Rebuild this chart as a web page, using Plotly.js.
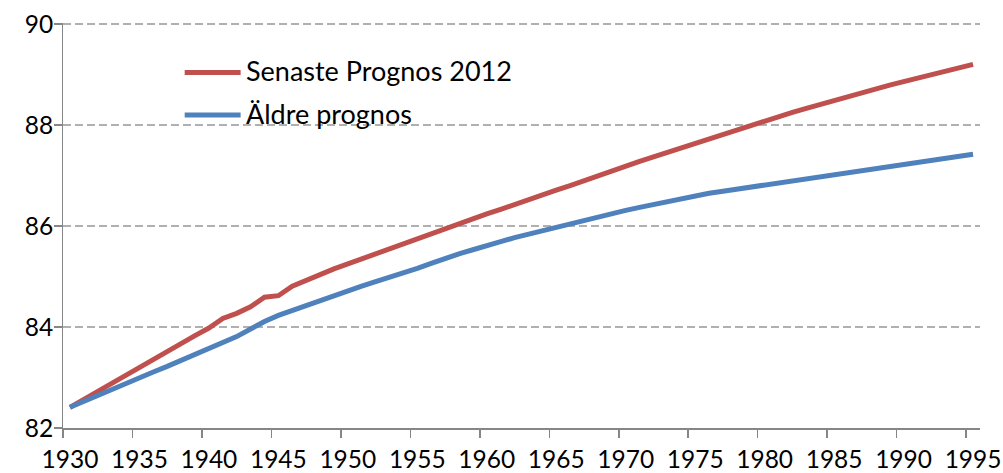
<!DOCTYPE html>
<html>
<head>
<meta charset="utf-8">
<script src="https://cdn.plot.ly/plotly-3.0.1.min.js"></script>
<style>html,body{margin:0;padding:0;background:#fff;}#chart{width:1003px;height:473px;}</style>
</head>
<body>
<div id="chart"></div>
<script>
var years = [];
for (var yr = 1930; yr <= 1995; yr++) years.push(yr);

var seriesNames = ["Senaste Prognos 2012", "Äldre prognos"];

var senaste = [
  82.41, 82.57, 82.73, 82.88, 83.04, 83.20, 83.36, 83.51, 83.67, 83.83,
  83.98, 84.17, 84.27, 84.40, 84.59, 84.62, 84.81, 84.93, 85.04, 85.15,
  85.25, 85.35, 85.46, 85.56, 85.66, 85.76, 85.84, 85.96, 86.05, 86.14,
  86.24, 86.33, 86.43, 86.52, 86.62, 86.71, 86.80, 86.90, 87.00, 87.10,
  87.19, 87.28, 87.37, 87.46, 87.55, 87.64, 87.73, 87.82, 87.91, 88.00,
  88.09, 88.17, 88.25, 88.33, 88.41, 88.49, 88.57, 88.65, 88.72, 88.79,
  88.86, 88.93, 89.00, 89.07, 89.14, 89.20
];

var aldre = [
  82.41, 82.53, 82.64, 82.76, 82.87, 82.99, 83.11, 83.22, 83.34, 83.45,
  83.57, 83.68, 83.81, 83.96, 84.11, 84.23, 84.33, 84.42, 84.52, 84.63,
  84.71, 84.81, 84.90, 84.98, 85.07, 85.16, 85.26, 85.36, 85.45, 85.53,
  85.62, 85.69, 85.77, 85.84, 85.91, 85.98, 86.04, 86.11, 86.18, 86.24,
  86.31, 86.37, 86.43, 86.49, 86.55, 86.60, 86.65, 86.69, 86.73, 86.77,
  86.82, 86.86, 86.90, 86.94, 86.98, 87.03, 87.07, 87.11, 87.15, 87.18,
  87.22, 87.26, 87.30, 87.34, 87.38, 87.42
];

var xTickLabels = ["1930","1935","1940","1945","1950","1955","1960","1965","1970","1975","1980","1985","1990","1995"];
var yTickVals = [82, 84, 86, 88, 90];

var colors = ["#C0504D", "#4F81BD"];
var font = "Lato, 'Open Sans', sans-serif";
var tickFont = {family: font, size: 24.5, color: "#000"};

// ticks sit on category boundaries (half a year before each labelled year)
var xLabelVals = xTickLabels.map(Number);
var xTickVals = xLabelVals.map(function (v) { return v - 0.5; });
var xRange = [1929.5, 1995.5];

var traces = [
  {x: years, y: senaste, name: seriesNames[0], type: "scatter", mode: "lines",
   line: {color: colors[0], width: 5}, showlegend: false, hoverinfo: "x+y"},
  {x: years, y: aldre, name: seriesNames[1], type: "scatter", mode: "lines",
   line: {color: colors[1], width: 5}, showlegend: false, hoverinfo: "x+y"}
];

// custom legend (long sample lines like the original)
var legY = [0.878, 0.7727];
var shapes = [], annotations = [];
seriesNames.forEach(function (n, i) {
  shapes.push({type: "line", xref: "paper", yref: "paper",
    x0: 0.1327, x1: 0.1937, y0: legY[i], y1: legY[i],
    line: {color: colors[i], width: 5}});
  annotations.push({xref: "paper", yref: "paper", x: 0.1975, y: legY[i] + 0.004,
    xanchor: "left", yanchor: "middle", showarrow: false, text: n,
    font: {family: font, size: 27, color: "#000"}});
});

var layout = {
  width: 1003, height: 473,
  margin: {l: 63.3, r: 22.5, t: 22.5, b: 45.3},
  paper_bgcolor: "#fff", plot_bgcolor: "#fff",
  showlegend: false,
  font: {family: font, size: 22, color: "#000"},
  xaxis: {
    range: xRange, tickmode: "array", tickvals: xTickVals, showticklabels: false,
    ticks: "outside", ticklen: 8, tickwidth: 1.5, tickcolor: "#868686",
    showline: true, linecolor: "#868686", linewidth: 1.5,
    showgrid: false, zeroline: false
  },
  xaxis2: {
    overlaying: "x", anchor: "y", side: "bottom",
    range: xRange, tickmode: "array", tickvals: xLabelVals, ticktext: xTickLabels,
    ticks: "outside", ticklen: 10, tickcolor: "rgba(0,0,0,0)",
    showline: false, showgrid: false, zeroline: false,
    tickfont: tickFont
  },
  yaxis: {
    range: [82, 90.02], tickmode: "array", tickvals: yTickVals,
    ticks: "outside", ticklen: 8, tickwidth: 1.5, tickcolor: "#868686",
    showline: true, linecolor: "#868686", linewidth: 1.5,
    showgrid: true, gridcolor: "#B0B0B0", gridwidth: 2, griddash: "8px,4px",
    zeroline: false, showticklabels: false
  },
  yaxis2: {
    overlaying: "y", anchor: "x", side: "left",
    range: [82, 90.02], tickmode: "array", tickvals: yTickVals,
    ticks: "outside", ticklen: 4, tickcolor: "rgba(0,0,0,0)",
    showline: false, showgrid: false, zeroline: false,
    tickfont: tickFont
  },
  shapes: shapes,
  annotations: annotations
};

traces.push({x: [xRange[0]], y: [null], xaxis: "x2", yaxis: "y2", type: "scatter",
  mode: "lines", showlegend: false, hoverinfo: "skip"});

Plotly.newPlot("chart", traces, layout, {displayModeBar: false, staticPlot: true});
</script>
</body>
</html>
